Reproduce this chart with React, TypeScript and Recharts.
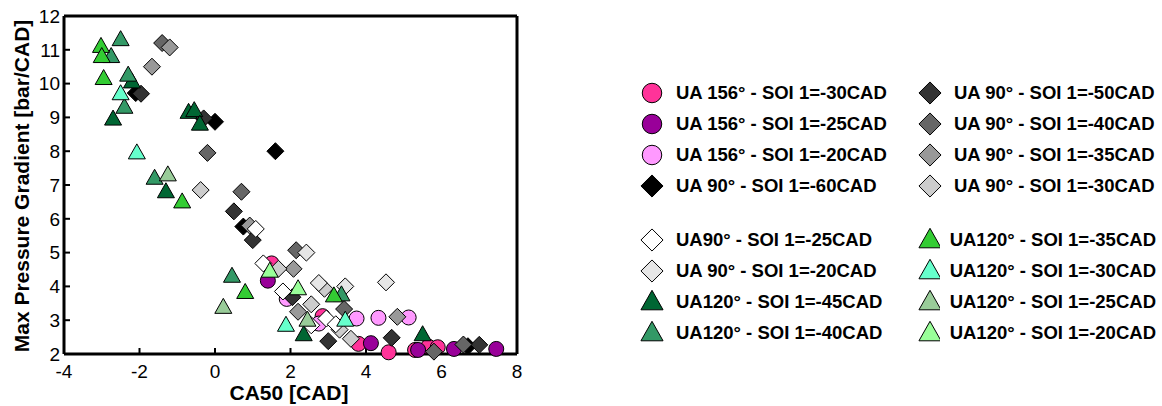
import { Label, ReferenceLine, Scatter, ScatterChart, XAxis, YAxis } from "recharts";

// CA50 [CAD] vs max pressure gradient [bar/CAD]
const ua156m30 = [
  { x: 1.5, y: 4.68 }, { x: 2.85, y: 3.12 }, { x: 3.8, y: 2.3 }, { x: 4.6, y: 2.05 },
  { x: 5.3, y: 2.12 }, { x: 5.65, y: 2.22 }, { x: 5.9, y: 2.2 },
];
const ua156m25 = [
  { x: 1.4, y: 4.17 }, { x: 4.13, y: 2.32 }, { x: 5.38, y: 2.12 }, { x: 6.33, y: 2.15 }, { x: 7.45, y: 2.15 },
];
const ua156m20 = [
  { x: 1.9, y: 3.63 }, { x: 2.75, y: 2.9 }, { x: 3.75, y: 3.05 }, { x: 4.33, y: 3.07 }, { x: 5.13, y: 3.08 },
];
const ua90m60 = [
  { x: -2.1, y: 9.72 }, { x: 0.0, y: 8.87 }, { x: 1.6, y: 8.0 }, { x: 0.75, y: 5.77 }, { x: 6.7, y: 2.23 },
];
const ua90m50 = [
  { x: -1.96, y: 9.7 }, { x: -0.3, y: 8.97 }, { x: 0.5, y: 6.22 }, { x: 1.0, y: 5.37 },
  { x: 2.05, y: 3.68 }, { x: 3.0, y: 2.38 }, { x: 4.68, y: 2.48 }, { x: 7.0, y: 2.27 },
];
const ua90m40 = [
  { x: -1.4, y: 11.2 }, { x: -0.2, y: 7.95 }, { x: 0.7, y: 6.8 }, { x: 2.15, y: 5.07 },
  { x: 3.42, y: 3.33 }, { x: 5.8, y: 2.07 }, { x: 6.58, y: 2.28 },
];
const ua90m35 = [
  { x: -1.2, y: 11.07 }, { x: -1.67, y: 10.5 }, { x: 0.92, y: 5.8 }, { x: 2.08, y: 4.52 },
  { x: 2.2, y: 3.25 }, { x: 4.83, y: 3.1 },
];
const ua90m30 = [
  { x: -0.38, y: 6.85 }, { x: 1.68, y: 4.52 }, { x: 2.55, y: 3.47 }, { x: 2.9, y: 3.93 },
  { x: 3.3, y: 2.72 }, { x: 3.6, y: 2.45 },
];
const ua90m25 = [
  { x: 1.08, y: 5.7 }, { x: 1.28, y: 4.68 }, { x: 1.8, y: 3.85 }, { x: 2.95, y: 3.05 },
  { x: 2.55, y: 2.85 }, { x: 3.2, y: 2.88 },
];
const ua90m20 = [
  { x: 2.42, y: 5.0 }, { x: 2.75, y: 4.1 }, { x: 3.45, y: 4.0 }, { x: 4.53, y: 4.12 },
];
const ua120m45 = [
  { x: -2.2, y: 10.05 }, { x: -2.7, y: 8.95 }, { x: -0.7, y: 9.15 }, { x: -0.55, y: 9.2 },
  { x: -0.4, y: 8.8 }, { x: -1.3, y: 6.8 }, { x: 2.35, y: 2.57 }, { x: 5.5, y: 2.57 },
];
const ua120m40 = [
  { x: -2.5, y: 11.3 }, { x: -2.75, y: 10.8 }, { x: -2.3, y: 10.25 }, { x: -2.4, y: 9.3 },
  { x: -1.6, y: 7.2 }, { x: 0.45, y: 4.3 }, { x: 3.35, y: 3.75 },
];
const ua120m35 = [
  { x: -3.02, y: 11.1 }, { x: -3.0, y: 10.8 }, { x: -2.95, y: 10.15 }, { x: -0.87, y: 6.5 },
  { x: 0.8, y: 3.82 }, { x: 3.15, y: 3.72 },
];
const ua120m30 = [
  { x: -2.5, y: 9.7 }, { x: -2.07, y: 7.95 }, { x: 1.88, y: 2.85 }, { x: 3.45, y: 3.0 },
];
const ua120m25 = [
  { x: -1.25, y: 7.3 }, { x: 0.22, y: 3.38 }, { x: 2.45, y: 3.0 },
];
const ua120m20 = [
  { x: 1.45, y: 4.45 }, { x: 2.2, y: 3.93 },
];

const xTicks = [-4, -2, 0, 2, 4, 6, 8];
const yTicks = [2, 3, 4, 5, 6, 7, 8, 9, 10, 11, 12];

type Kind = "circle" | "diamond" | "triangle";

// drawing order = stacking order (circles under diamonds under triangles)
const series = [
  { id: "156-30", name: "UA 156° - SOI 1=-30CAD", data: ua156m30, color: "#ff3399", kind: "circle" as Kind },
  { id: "156-25", name: "UA 156° - SOI 1=-25CAD", data: ua156m25, color: "#990099", kind: "circle" as Kind },
  { id: "156-20", name: "UA 156° - SOI 1=-20CAD", data: ua156m20, color: "#ff99ff", kind: "circle" as Kind },
  { id: "90-60", name: "UA 90° - SOI 1=-60CAD", data: ua90m60, color: "#000000", kind: "diamond" as Kind },
  { id: "90-50", name: "UA 90° - SOI 1=-50CAD", data: ua90m50, color: "#333333", kind: "diamond" as Kind },
  { id: "90-40", name: "UA 90° - SOI 1=-40CAD", data: ua90m40, color: "#666666", kind: "diamond" as Kind },
  { id: "90-35", name: "UA 90° - SOI 1=-35CAD", data: ua90m35, color: "#999999", kind: "diamond" as Kind },
  { id: "90-30", name: "UA 90° - SOI 1=-30CAD", data: ua90m30, color: "#cccccc", kind: "diamond" as Kind },
  { id: "90-25", name: "UA90° - SOI 1=-25CAD", data: ua90m25, color: "#ffffff", kind: "diamond" as Kind },
  { id: "90-20", name: "UA 90° - SOI 1=-20CAD", data: ua90m20, color: "#e6e6e6", kind: "diamond" as Kind },
  { id: "120-45", name: "UA120° - SOI 1=-45CAD", data: ua120m45, color: "#006633", kind: "triangle" as Kind },
  { id: "120-40", name: "UA120° - SOI 1=-40CAD", data: ua120m40, color: "#339966", kind: "triangle" as Kind },
  { id: "120-35", name: "UA120° - SOI 1=-35CAD", data: ua120m35, color: "#33cc33", kind: "triangle" as Kind },
  { id: "120-30", name: "UA120° - SOI 1=-30CAD", data: ua120m30, color: "#66ffcc", kind: "triangle" as Kind },
  { id: "120-25", name: "UA120° - SOI 1=-25CAD", data: ua120m25, color: "#99cc99", kind: "triangle" as Kind },
  { id: "120-20", name: "UA120° - SOI 1=-20CAD", data: ua120m20, color: "#99ff99", kind: "triangle" as Kind },
];

const legendCols = [
  [["156-30", "156-25", "156-20", "90-60"], ["90-25", "90-20", "120-45", "120-40"]],
  [["90-50", "90-40", "90-35", "90-30"], ["120-35", "120-30", "120-25", "120-20"]],
];

const FONT = "'Liberation Sans', Arial, sans-serif";

function Marker({ cx, cy, fill, kind, s = 1 }: { cx: number; cy: number; fill: string; kind: Kind; s?: number }) {
  if (kind === "circle") {
    return <circle cx={cx} cy={cy} r={7.5 * s} fill={fill} stroke="#000" strokeWidth={1} />;
  }
  if (kind === "diamond") {
    const h = 8.5 * s;
    return (
      <polygon
        points={`${cx},${cy - h} ${cx + h},${cy} ${cx},${cy + h} ${cx - h},${cy}`}
        fill={fill}
        stroke="#000"
        strokeWidth={1}
      />
    );
  }
  const w = 8.5 * s;
  return (
    <polygon
      points={`${cx},${cy - 9 * s} ${cx + w},${cy + 6 * s} ${cx - w},${cy + 6 * s}`}
      fill={fill}
      stroke="#000"
      strokeWidth={1}
    />
  );
}

function LegendBox() {
  return (
    <div style={{ position: "absolute", left: 638, top: 77, display: "flex", fontFamily: FONT }}>
      {legendCols.map((col, ci) => (
        <div key={ci} style={{ width: ci === 0 ? 278 : 240 }}>
          {col.map((block, bi) => (
            <div key={bi} style={{ marginTop: bi === 0 ? 0 : 23 }}>
              {block.map((id) => {
                const s = series.find((d) => d.id === id)!;
                return (
                  <div key={id} style={{ display: "flex", alignItems: "center", height: 31 }}>
                    <svg width={28} height={26} style={{ marginRight: 10 }}>
                      <Marker cx={14} cy={13} fill={s.color} kind={s.kind} s={1.3} />
                    </svg>
                    <span style={{ fontSize: 18.5, fontWeight: "bold", color: "#000", whiteSpace: "nowrap" }}>
                      {s.name}
                    </span>
                  </div>
                );
              })}
            </div>
          ))}
        </div>
      ))}
    </div>
  );
}

export default function App() {
  return (
    <div style={{ position: "absolute", left: 0, top: 0, width: 1162, height: 406, background: "#fff" }}>
      <ScatterChart width={1162} height={406} margin={{ top: 16, right: 645, bottom: 0, left: 0 }}>
        <XAxis
          type="number"
          dataKey="x"
          domain={[-4, 8]}
          ticks={xTicks}
          interval={0}
          height={52}
          tickSize={-6}
          tickMargin={17}
          axisLine={{ stroke: "#000", strokeWidth: 3 }}
          tickLine={{ stroke: "#000", strokeWidth: 2 }}
          tick={{ fill: "#000", fontSize: 19, fontFamily: FONT }}
        >
          <Label
            content={() => (
              <text x={289} y={400} textAnchor="middle" fontSize={21} fontWeight="bold" fontFamily={FONT} fill="#000">
                CA50 [CAD]
              </text>
            )}
          />
        </XAxis>
        <YAxis
          type="number"
          dataKey="y"
          domain={[2, 12]}
          ticks={yTicks}
          interval={0}
          width={64}
          tickSize={-6}
          tickMargin={10}
          axisLine={{ stroke: "#000", strokeWidth: 3 }}
          tickLine={{ stroke: "#000", strokeWidth: 2 }}
          tick={{ fill: "#000", fontSize: 19, fontFamily: FONT }}
        >
          <Label
            content={() => (
              <text
                x={0}
                y={0}
                transform="translate(29,186) rotate(-90)"
                textAnchor="middle"
                fontSize={21}
                fontWeight="bold"
                fontFamily={FONT}
                fill="#000"
              >
                Max Pressure Gradient [bar/CAD]
              </text>
            )}
          />
        </YAxis>
        <ReferenceLine y={12} stroke="#000" strokeWidth={3} />
        <ReferenceLine x={8} stroke="#000" strokeWidth={3} />
        {series.map((s) => (
          <Scatter
            key={s.id}
            name={s.name}
            data={s.data}
            isAnimationActive={false}
            shape={(p: any) => <Marker cx={p.cx} cy={p.cy} fill={s.color} kind={s.kind} />}
          />
        ))}
      </ScatterChart>
      <LegendBox />
    </div>
  );
}
